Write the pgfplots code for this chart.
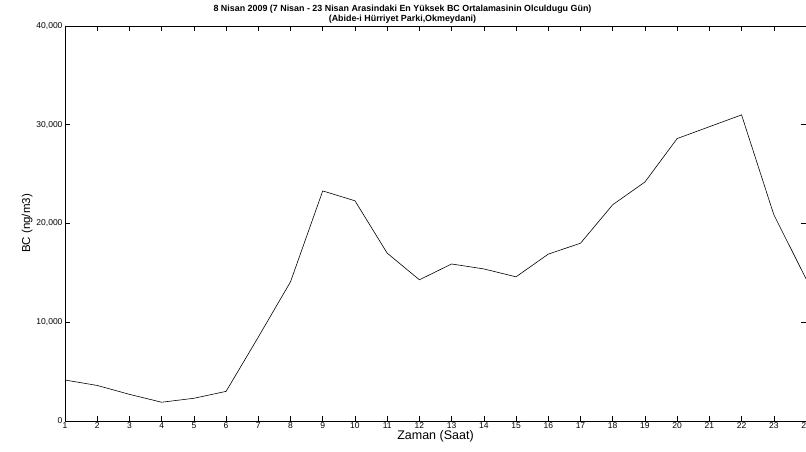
\documentclass[border=0pt]{standalone}
\usepackage{pgfplots}
\pgfplotsset{compat=1.18}
\usepackage{fontspec}
\setmainfont{Liberation Sans}
\begin{document}
\begin{tikzpicture}
\begin{axis}[
  name=ax,
  scale only axis,
  width=741pt, height=395pt,
  xmin=1, xmax=24, ymin=0, ymax=40000,
  xtick={1,...,24},
  ytick={0,10000,20000,30000,40000},
  tick align=inside,
  major tick length=5pt,
  tick style={black, line width=0.5pt},
  axis line style={line width=0.6pt},
  scaled y ticks=false,
  /pgf/number format/assume math mode=true,
  /pgf/number format/1000 sep={,},
  /pgf/number format/fixed,
  tick label style={font=\fontsize{8.5}{10}\selectfont},
  xticklabel style={yshift=2pt},
  yticklabel style={xshift=1pt},
  xlabel={Zaman (Saat)},
  ylabel={BC (ng/m3)},
  xlabel style={font=\fontsize{12.5}{14}\selectfont, yshift=5pt},
  ylabel style={font=\fontsize{11.5}{13}\selectfont, yshift=-3pt},
  title={8 Nisan 2009 (7 Nisan - 23 Nisan Arasindaki En Y\"uksek BC Ortalamasinin Olculdugu G\"un)\\(Abide-i H\"urriyet Parki,Okmeydani)},
  title style={font=\bfseries\fontsize{8.9}{10}\selectfont, align=center, yshift=-6.5pt, xshift=-33pt},
]
\addplot[black, line width=0.6pt] coordinates {
(1,4150) (2,3600) (3,2700) (4,1900) (5,2300) (6,3000) (7,8500) (8,14100)
(9,23300) (10,22300) (11,17000) (12,14300) (13,15900) (14,15400) (15,14600)
(16,16900) (17,18000) (18,21900) (19,24200) (20,28600) (21,29800) (22,31000)
(23,20900) (24,14400)
};
\end{axis}
\pgfresetboundingbox
\path ([xshift=-65pt,yshift=-31pt]ax.south west) rectangle ([yshift=26pt]ax.north east);
\end{tikzpicture}
\end{document}
